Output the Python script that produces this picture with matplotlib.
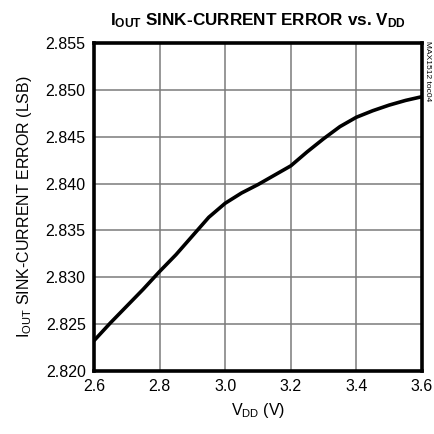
import numpy as np
import matplotlib.pyplot as plt

plt.rcParams['font.family'] = ['Liberation Sans Narrow', 'Liberation Sans', 'DejaVu Sans']
plt.rcParams['mathtext.fontset'] = 'custom'
plt.rcParams['mathtext.rm'] = 'Liberation Sans'
plt.rcParams['mathtext.bf'] = 'Liberation Sans:bold'

# data
vdd = [2.60, 2.65, 2.70, 2.75, 2.80, 2.85, 2.90, 2.95, 3.00, 3.05, 3.10,
       3.15, 3.20, 3.25, 3.30, 3.35, 3.40, 3.45, 3.50, 3.55, 3.60]
err = [2.8232, 2.8251, 2.8269, 2.8287, 2.8306, 2.8324, 2.8344, 2.8364, 2.8379, 2.8390, 2.8399,
       2.8409, 2.8419, 2.8434, 2.8448, 2.8461, 2.8471, 2.8478, 2.8484, 2.8489, 2.8493]

xticks = [2.6, 2.8, 3.0, 3.2, 3.4, 3.6]
yticks = [2.820, 2.825, 2.830, 2.835, 2.840, 2.845, 2.850, 2.855]

fig = plt.figure(figsize=(4.35, 4.34), dpi=100)
ax = fig.add_axes([0.216, 0.146, 0.754, 0.754])

ax.plot(vdd, err, color='black', lw=2.6, solid_capstyle='butt', solid_joinstyle='round')

ax.set_xlim(2.6, 3.6)
ax.set_ylim(2.820, 2.855)
ax.set_xticks(xticks)
ax.set_xticklabels([f'{t:.1f}' for t in xticks])
ax.set_yticks(yticks)
ax.set_yticklabels([f'{t:.3f}' for t in yticks])
ax.tick_params(length=0, labelsize=11.5, pad=6)
ax.grid(True, color='#7a7a7a', lw=1.1)
ax.set_axisbelow(True)
for s in ax.spines.values():
    s.set_linewidth(2.6)

ax.set_xlabel(r'V$_{\rm DD}$ (V)', fontsize=11.5, labelpad=5)
ax.set_ylabel(r'I$_{\rm OUT}$ SINK-CURRENT ERROR (LSB)', fontsize=11.5, labelpad=8)
ax.set_title(r'$\mathbf{I_{OUT}}$ SINK-CURRENT ERROR vs. $\mathbf{V_{DD}}$',
             fontsize=12.3, fontweight='bold', pad=13)

fig.text(0.982, 0.905, 'MAX1512 toc04', rotation=-90, fontsize=6,
         ha='center', va='top', family='Liberation Sans')

fig.savefig('out.png', dpi=100)
